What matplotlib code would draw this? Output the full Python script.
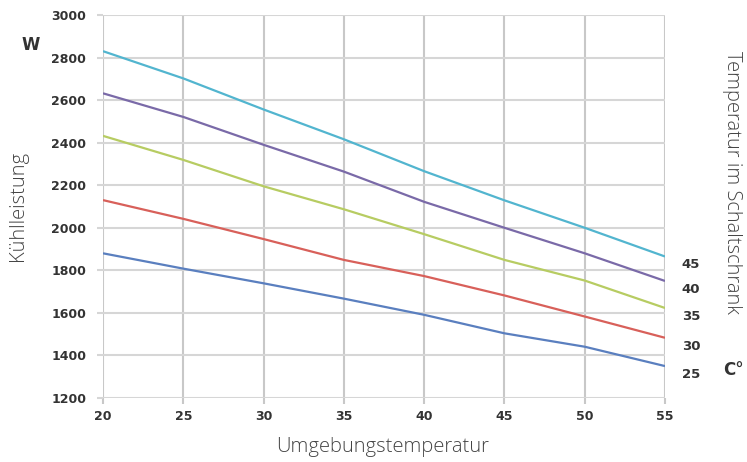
import matplotlib
matplotlib.use("Agg")
import matplotlib.pyplot as plt

temps = [20, 25, 30, 35, 40, 45, 50, 55]
series_labels = ["45", "40", "35", "30", "25"]
cyan = [2830, 2702, 2556, 2416, 2266, 2129, 2000, 1865]
purple = [2632, 2521, 2390, 2264, 2122, 2000, 1880, 1750]
green = [2432, 2319, 2195, 2087, 1970, 1849, 1752, 1623]
red = [2130, 2042, 1947, 1849, 1773, 1682, 1583, 1483]
blue = [1880, 1808, 1739, 1667, 1591, 1504, 1441, 1350]
series = [cyan, purple, green, red, blue]
colors = ["#52b5cf", "#7a6aa8", "#b7cc62", "#d8605a", "#5a7fbf"]
yticks = [1200, 1400, 1600, 1800, 2000, 2200, 2400, 2600, 2800, 3000]
xticks = [20, 25, 30, 35, 40, 45, 50, 55]

fig = plt.figure(figsize=(7.47, 4.62), dpi=100)
ax = fig.add_axes([103/747, 1-398/462, (665-103)/747, (398-15)/462])
for vals, c in zip(series, colors):
    ax.plot(temps, vals, color=c, lw=1.6, solid_capstyle="butt")

ax.set_xlim(20, 55)
ax.set_ylim(1200, 3000)
ax.set_xticks(xticks)
ax.set_yticks(yticks)
ax.grid(True, axis="y", color="#d6d6d6", lw=1.5)
ax.grid(True, axis="x", color="#c8c8c8", lw=1.5)
ax.set_axisbelow(True)
for s in ax.spines.values():
    s.set_visible(False)
ax.tick_params(axis="y", colors="#d6d6d6", length=4, width=1.5,
               labelcolor="#333333", labelsize=9, pad=8)
ax.tick_params(axis="x", colors="#c8c8c8", length=4, width=1.5,
               labelcolor="#333333", labelsize=9, pad=5)
for lab in ax.get_xticklabels() + ax.get_yticklabels():
    lab.set_fontweight("bold")

for vals, lab in zip(series, series_labels):
    ax.annotate(lab, xy=(temps[-1], vals[-1]), xytext=(12, -6),
                textcoords="offset points", ha="left", va="center",
                fontsize=9.5, fontweight="bold", color="#333333",
                annotation_clip=False)

tf = dict(family="Open Sans", color="#444444", fontsize=14.5, fontweight="light")
fig.text(383/747, 1-447/462, "Umgebungstemperatur", ha="center", va="center", **tf)
fig.text(18/747, 1-206/462, "Kühlleistung", ha="center", va="center", rotation=90, **tf)
fig.text(732/747, 1-182/462, "Temperatur im Schaltschrank", ha="center", va="center",
         rotation=-90, **tf)
fig.text(31/747, 1-45/462, "W", ha="center", va="center", fontsize=12,
         fontweight="bold", color="#333333")
fig.text(733/747, 1-370/462, "C°", ha="center", va="center", fontsize=12,
         fontweight="bold", color="#333333")

fig.savefig("out.png", dpi=100)
